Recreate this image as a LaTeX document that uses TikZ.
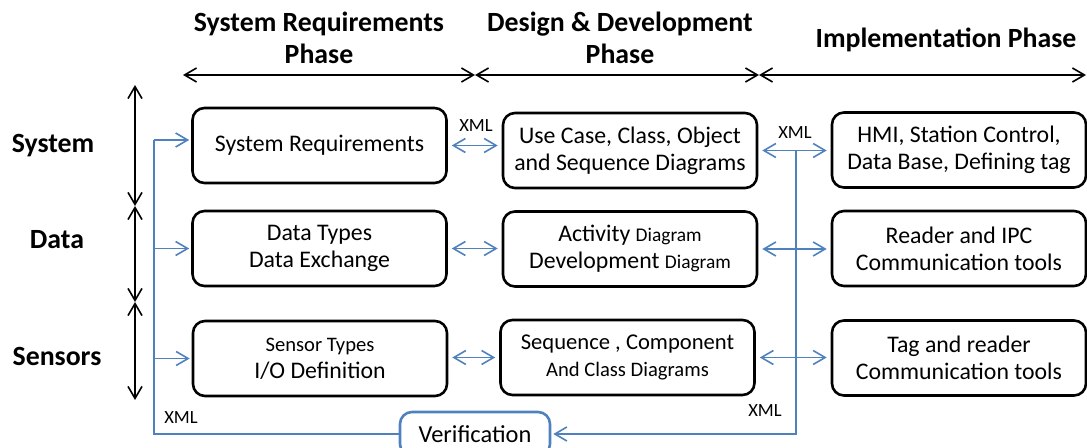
\documentclass[tikz,border=0pt]{standalone}
\usepackage{fontspec}
\setmainfont{Carlito}
\usetikzlibrary{arrows.meta}
\definecolor{xmlblue}{RGB}{79,129,189}
\newcommand{\sm}{\fontsize{9.7}{11}\selectfont}
\begin{document}
\begin{tikzpicture}[
    x=0.5pt, y=-0.5pt,
    PB/.style={draw=black,line width=1.3pt,rounded corners=6pt,minimum width=127pt,minimum height=37.5pt,align=center,inner sep=2pt,font=\fontsize{11.9}{13.5}\selectfont},
    VB/.style={draw=xmlblue,line width=1.3pt,rounded corners=6pt,fill=white,minimum width=75pt,minimum height=22pt,font=\fontsize{12.2}{13}\selectfont},
    HD/.style={font=\bfseries\fontsize{13.9}{16}\selectfont,align=center},
    XL/.style={font=\fontsize{9.3}{10}\selectfont},
    LL/.style={draw=black,line width=0.8pt,{Straight Barb[length=6pt,width=7pt]}-{Straight Barb[length=6pt,width=7pt]}},
    BL/.style={draw=xmlblue,line width=0.8pt},
    BA/.style={BL,-{Straight Barb[length=6pt,width=7pt]}},
    BD/.style={BL,{Straight Barb[length=6pt,width=7pt]}-{Straight Barb[length=6pt,width=7pt]},shorten <=2pt,shorten >=2pt}
    ]
    \useasboundingbox (0,0) rectangle (1087,448);
    \clip (0,0) rectangle (1087,448);
    % phases
    \node [HD] (HSys) at (319,38) {System Requirements\\Phase};
    \node [HD] (HDes) at (620,38) {Design \& Development\\Phase};
    \node [HD] (HImp) at (946,40) {Implementation Phase};
    \coordinate (P0) at (183,75);
    \coordinate (P1) at (475,75);
    \coordinate (P2) at (759,75);
    \coordinate (P3) at (1086,75);
    \draw [LL] (P0) -- (P1);
    \draw [LL] (P1) -- (P2);
    \draw [LL] (P2) -- (P3);
    % levels
    \node [HD] (LSys) at (53,146) {System};
    \node [HD] (LDat) at (57,240) {Data};
    \node [HD] (LSen) at (57,356) {Sensors};
    \coordinate (V0) at (135,85);
    \coordinate (V1) at (135,206);
    \coordinate (V2) at (135,302);
    \coordinate (V3) at (135,400);
    \draw [LL] (V0) -- (V1);
    \draw [LL] (V1) -- (V2);
    \draw [LL] (V2) -- (V3);
    % boxes
    \node [PB] (SysReq) at (319.5,145.5) {System Requirements};
    \node [PB] (DataTypes) at (319.5,248.5) {Data Types\\Data Exchange};
    \node [PB] (SensorTypes) at (320,358.5) {{\fontsize{10.3}{11}\selectfont Sensor Types}\\I/O Definition};
    \node [PB] (UseCase) at (630,150.5) {Use Case, Class, Object\\and Sequence Diagrams};
    \node [PB] (Activity) at (630,249) {Activity {\sm Diagram}\\Development {\sm Diagram}};
    \node [PB] (SeqComp) at (627.5,357.5) {{\fontsize{11.3}{12}\selectfont Sequence , Component}\\{\fontsize{10.3}{11}\selectfont And Class Diagrams}};
    \node [PB] (HMI) at (959,150) {HMI, Station Control,\\Data Base, Defining tag};
    \node [PB] (ReaderIPC) at (959,248.5) {Reader and IPC\\Communication tools};
    \node [PB] (TagReader) at (959,358) {Tag and reader\\Communication tools};
    \node [VB] (Verif) at (475,434) {Verification};
    % xml links
    \draw [BD] (SysReq.east) -- (SysReq.east -| UseCase.west);
    \draw [BD] (DataTypes.east) -- (DataTypes.east -| Activity.west);
    \draw [BD] (SeqComp.west -| SensorTypes.east) -- (SeqComp.west);
    \draw [BD] (UseCase.east) -- (UseCase.east -| HMI.west);
    \draw [BD] (Activity.east) -- (Activity.east -| ReaderIPC.west);
    \draw [BD] (SeqComp.east) -- (SeqComp.east -| TagReader.west);
    \node [XL] (X1) at (476,126) {XML};
    \node [XL] (X2) at (795,133) {XML};
    \node [XL] (X3) at (181,418) {XML};
    \node [XL] (X4) at (765,411) {XML};
    % verification loop
    \coordinate (TL) at (154,140);
    \coordinate (TR) at (796,150);
    \draw [BL] (Verif.west) -| (TL);
    \draw [BA,shorten >=1pt] (TL) -- (TL -| SysReq.west);
    \draw [BA,shorten >=1pt] (TL |- DataTypes) -- (DataTypes.west);
    \draw [BA,shorten >=1pt] (TL |- SensorTypes) -- (SensorTypes.west);
    \draw [BA,shorten >=1pt] (TR) |- (Verif.east);
\end{tikzpicture}
\end{document}
